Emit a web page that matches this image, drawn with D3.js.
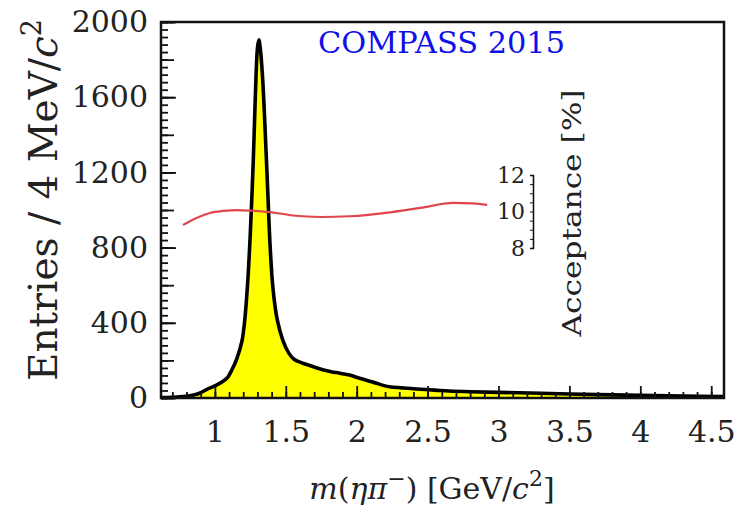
<!DOCTYPE html>
<html>
<head>
<meta charset="utf-8">
<script src="https://cdn.jsdelivr.net/npm/d3@7"></script>
<style>
  body { margin: 0; background: #fff; }
  svg { display: block; }
  text { font-family: "DejaVu Serif", serif; }
</style>
</head>
<body>
<svg id="chart"></svg>
<script>
// values
const massTicks = [1, 1.5, 2, 2.5, 3, 3.5, 4, 4.5]
const countTicks = [0, 400, 800, 1200, 1600, 2000]
const accTicks = [8, 10, 12]

// m(eta pi-) spectrum, GeV vs entries / 4 MeV
const specMass = [0.62, 0.70, 0.78, 0.85, 0.90, 0.94, 1.00, 1.05, 1.09, 1.12, 1.155, 1.19, 1.21, 1.23, 1.25,
  1.27, 1.285, 1.30, 1.31, 1.32, 1.335, 1.35, 1.37, 1.39, 1.41, 1.44, 1.48, 1.52, 1.56, 1.62, 1.70, 1.76,
  1.82, 1.88, 1.95, 2.02, 2.08, 2.14, 2.23, 2.32, 2.42, 2.55, 2.65, 2.80, 3.00, 3.30, 3.70, 4.00, 4.30, 4.59]
const specCounts = [2, 4, 8, 16, 28, 45, 65, 85, 110, 150, 210, 300, 410, 600, 880,
  1250, 1600, 1860, 1905, 1860, 1720, 1500, 1150, 800, 580, 415, 305, 240, 205, 185, 165, 150,
  140, 132, 122, 105, 92, 78, 60, 54, 48, 42, 37, 33, 30, 25, 18, 14, 10, 8]

// acceptance curve, percent
const accMass = [0.775, 0.87, 0.965, 1.06, 1.155, 1.27, 1.39, 1.55, 1.745, 1.95, 2.25, 2.45, 2.68, 2.82, 2.92]
const accPct = [9.26, 9.65, 9.92, 10.03, 10.08, 10.04, 9.97, 9.78, 9.70, 9.74, 9.97, 10.2, 10.47, 10.45, 10.36]

const W = 740, H = 513
const m = {left: 161, top: 22}
const w = 563, h = 376

const svg = d3.select('#chart').attr('width', W).attr('height', H)
const g = svg.append('g').attr('transform', `translate(${m.left},${m.top})`)

const x = d3.scaleLinear().domain([0.62, 4.59]).range([0, w])
const y = d3.scaleLinear().domain([0, 2000]).range([h, 0])
const acc = d3.scaleLinear().domain([8, 12]).range([226, 153])

svg.append('defs').append('clipPath').attr('id', 'clip')
  .append('rect').attr('width', w).attr('height', h)

// spectrum
const pts = specMass.map((d, i) => [d, specCounts[i]])
const curve = d3.curveCatmullRom.alpha(0.5)
const area = d3.area().curve(curve)
  .x(d => x(d[0])).y0(y(0)).y1(d => y(d[1]))
const line = d3.line().curve(curve)
  .x(d => x(d[0])).y(d => y(d[1]))
const plot = g.append('g').attr('clip-path', 'url(#clip)')
plot.append('path').datum(pts).attr('d', area).attr('fill', '#ffff00')
plot.append('path').datum(pts).attr('d', line)
  .attr('fill', 'none').attr('stroke', '#000').attr('stroke-width', 3.6)
  .attr('stroke-linejoin', 'round')

// acceptance
const accPts = accMass.map((d, i) => [d, accPct[i]])
g.append('path').datum(accPts)
  .attr('d', d3.line().curve(d3.curveMonotoneX).x(d => x(d[0])).y(d => acc(d[1])))
  .attr('fill', 'none').attr('stroke', '#e0474c').attr('stroke-width', 2.2)

// minor ticks
g.append('g').attr('transform', `translate(0,${h})`)
  .call(d3.axisBottom(x).tickValues(d3.range(7, 46).map(d => d / 10)).tickSize(-6).tickFormat(''))
g.append('g')
  .call(d3.axisLeft(y).tickValues(d3.range(0, 2001, 40)).tickSize(-7).tickFormat(''))
g.append('g')
  .call(d3.axisLeft(y).tickValues(d3.range(0, 2001, 200)).tickSize(-13).tickFormat(''))

// major ticks with labels
const xAxis = g.append('g').attr('transform', `translate(0,${h})`)
  .call(d3.axisBottom(x).tickValues(massTicks).tickSize(-12).tickPadding(23).tickFormat(d3.format('')))
const yAxis = g.append('g')
  .call(d3.axisLeft(y).tickValues(countTicks).tickSize(-15).tickPadding(13).tickFormat(d3.format('d')))

g.selectAll('.domain').remove()
g.selectAll('.tick line').attr('stroke', '#111').attr('stroke-width', 1.8)
g.selectAll('.tick text').attr('font-size', 30).attr('font-family', 'DejaVu Serif').attr('fill', '#222')

// frame
g.append('rect').attr('width', w).attr('height', h)
  .attr('fill', 'none').attr('stroke', '#111').attr('stroke-width', 2.5)

// acceptance axis
const ax = g.append('g').attr('transform', 'translate(372,0)')
  .call(d3.axisLeft(acc).tickValues(d3.range(8, 12.01, 0.5)).tickSize(3).tickFormat(''))
const ax2 = g.append('g').attr('transform', 'translate(372,0)')
  .call(d3.axisLeft(acc).tickValues(accTicks).tickSize(0).tickPadding(8).tickFormat(d3.format('d')))
ax.select('.domain').attr('stroke', '#111').attr('stroke-width', 1.6)
ax2.select('.domain').remove()
ax2.selectAll('text').attr('font-size', 22).attr('font-family', 'DejaVu Serif').attr('fill', '#222')
ax.selectAll('.tick line').attr('stroke', '#111')

// axis titles
svg.append('text')
  .attr('transform', 'translate(581,213) rotate(-90)')
  .attr('text-anchor', 'middle').attr('font-size', 26).attr('fill', '#222')
  .attr('textLength', 247).attr('lengthAdjust', 'spacingAndGlyphs')
  .text('Acceptance [%]')

const yt = svg.append('text')
  .attr('transform', 'translate(57,200) rotate(-90)')
  .attr('text-anchor', 'middle').attr('font-size', 39).attr('fill', '#222')
yt.append('tspan').text('Entries / 4 MeV/')
yt.append('tspan').attr('font-style', 'italic').text('c')
yt.append('tspan').attr('font-size', 27).attr('dy', -16).text('2')

const xt = svg.append('text')
  .attr('x', 432).attr('y', 499)
  .attr('text-anchor', 'middle').attr('font-size', 30).attr('fill', '#222')
xt.append('tspan').attr('font-style', 'italic').text('m')
xt.append('tspan').text('(')
xt.append('tspan').attr('font-style', 'italic').text('ηπ')
xt.append('tspan').attr('font-size', 22).attr('dy', -13).text('−')
xt.append('tspan').attr('dy', 13).text(')  [GeV/')
xt.append('tspan').attr('font-style', 'italic').text('c')
xt.append('tspan').attr('font-size', 22).attr('dy', -13).text('2')
xt.append('tspan').attr('dy', 13).text(']')

// experiment label
svg.append('text')
  .attr('x', 318).attr('y', 53)
  .attr('font-family', '"Liberation Sans", Arial, sans-serif')
  .attr('font-size', 29).attr('fill', '#1010e8')
  .attr('textLength', 247).attr('lengthAdjust', 'spacingAndGlyphs')
  .text('COMPASS 2015')
</script>
</body>
</html>
